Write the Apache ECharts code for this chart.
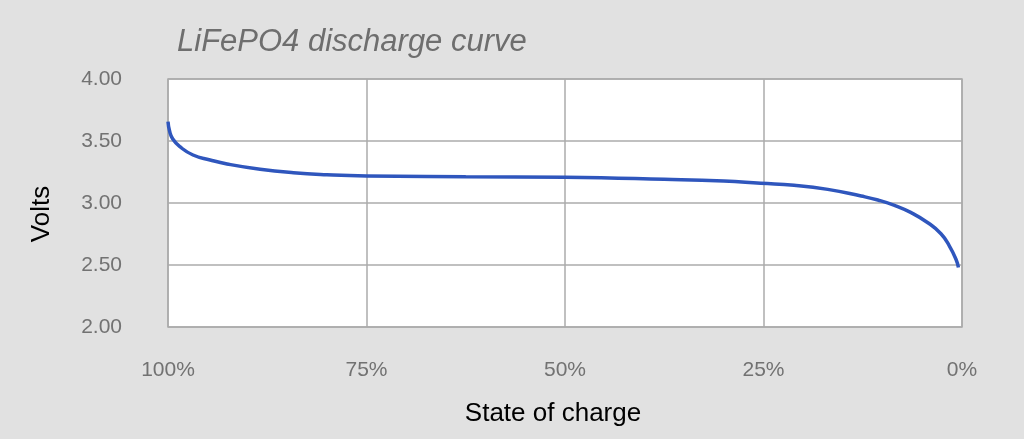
<!DOCTYPE html>
<html>
<head>
<meta charset="utf-8">
<script src="https://cdn.jsdelivr.net/npm/echarts@6/dist/echarts.min.js"></script>
<style>
  html, body { margin: 0; padding: 0; background: #e1e1e1; }
  #main { width: 1024px; height: 439px; }
</style>
</head>
<body>
<div id="main"></div>
<script>
// state of charge (%) and cell voltage
var soc = [100, 99.8, 99.4, 98.5, 96.85, 94.7, 92.56, 88.4, 84.2, 80, 75, 62.5, 50, 37.5, 30, 25.35, 21.15, 16.9, 12.7, 10.6, 8.5, 6.4, 4.3, 2.65, 1.6, 0.76, 0.45];
var volts = [3.656, 3.58, 3.516, 3.454, 3.387, 3.347, 3.315, 3.272, 3.244, 3.228, 3.218, 3.212, 3.207, 3.191, 3.177, 3.159, 3.143, 3.11, 3.056, 3.024, 2.981, 2.922, 2.841, 2.752, 2.655, 2.546, 2.48];
var xTicks = [100, 75, 50, 25, 0];
var yTicks = [2.0, 2.5, 3.0, 3.5, 4.0];

var points = soc.map(function (s, i) { return [s, volts[i]]; });
var fontName = "'Liberation Sans', Arial, sans-serif";

var myChart = echarts.init(document.getElementById('main'));
myChart.setOption({
    backgroundColor: '#e1e1e1',
    animation: false,
    title: {
        text: 'LiFePO4 discharge curve',
        left: 172,
        top: 22,
        textStyle: {
            fontFamily: fontName,
            fontStyle: 'italic',
            fontWeight: 'normal',
            fontSize: 31,
            color: '#6e6e6e'
        }
    },
    grid: {
        left: 168,
        right: 62,
        top: 79,
        bottom: 112,
        show: true,
        backgroundColor: '#ffffff',
        borderColor: '#ababab',
        borderWidth: 1.5
    },
    xAxis: {
        type: 'value',
        min: xTicks[xTicks.length - 1],
        max: xTicks[0],
        interval: 25,
        inverse: true,
        name: 'State of charge',
        nameLocation: 'middle',
        nameGap: 74,
        nameTextStyle: { fontFamily: fontName, fontSize: 26, color: '#000', padding: [0, 24, 0, 0] },
        axisLine: { show: false },
        axisTick: { show: false },
        axisLabel: {
            margin: 33,
            fontFamily: fontName,
            fontSize: 21,
            color: '#727272',
            formatter: function (v) { return v + '%'; }
        },
        splitLine: { show: true, lineStyle: { color: '#ababab', width: 1.5 } }
    },
    yAxis: {
        type: 'value',
        min: yTicks[0],
        max: yTicks[yTicks.length - 1],
        interval: 0.5,
        name: 'Volts',
        nameLocation: 'middle',
        nameGap: 113,
        nameTextStyle: { fontFamily: fontName, fontSize: 26, color: '#000', padding: [0, 22, 0, 0] },
        axisLine: { show: false },
        axisTick: { show: false },
        axisLabel: {
            margin: 46,
            fontFamily: fontName,
            fontSize: 21,
            color: '#727272',
            formatter: function (v) { return v.toFixed(2); }
        },
        splitLine: { show: true, lineStyle: { color: '#ababab', width: 1.5 } }
    },
    series: [
        {
            type: 'line',
            data: points,
            smooth: true,
            showSymbol: false,
            lineStyle: { color: '#2f56bd', width: 3.5 }
        }
    ]
});
</script>
</body>
</html>
